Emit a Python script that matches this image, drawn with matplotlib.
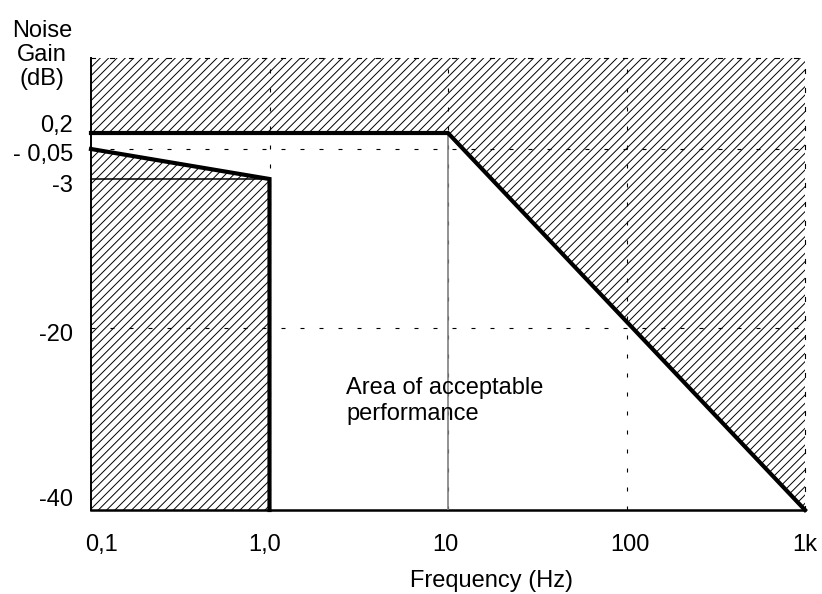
import numpy as np
import matplotlib
matplotlib.use("Agg")
import matplotlib.pyplot as plt
import matplotlib.transforms as mtransforms

plt.rcParams['font.family'] = ['Liberation Sans', 'DejaVu Sans']
plt.rcParams['hatch.linewidth'] = 0.7

# axis labels
freq_ticks = [0.1, 1.0, 10, 100, 1000]
freq_labels = ['0,1', '1,0', '10', '100', '1k']
gain_ticks = [0.2, -0.05, -3, -20, -40]
gain_labels = ['0,2', '- 0,05', '-3', '-20', '-40']

# upper limit of the noise gain (flat, then rolling off)
upper_freq = [0.1, 10, 1000]
upper_gain = [0.2, 0.2, -40]

# lower limit (slight droop down to -3 dB at 1 Hz)
lower_freq = [0.1, 1.0]
lower_gain = [-0.05, -3]

# dashed reference grid
grid_freqs = [1.0, 10, 100]
grid_gains = [-0.05, -20]

# the gain axis is not linear: breakpoints of the drawing scale
GAIN_DB = [-40, -20, -3, -0.05, 0.2, 1.0]
GAIN_POS = [0, 182, 331, 361, 377, 452]


def gain_fwd(y):
    return np.interp(y, GAIN_DB, GAIN_POS)


def gain_inv(p):
    return np.interp(p, GAIN_POS, GAIN_DB)


fig = plt.figure(figsize=(8.22, 5.94), dpi=100)
ax = fig.add_axes([91 / 822, 84 / 594, 714 / 822, 452 / 594])
ax.set_xscale('log')
ax.set_yscale('function', functions=(gain_fwd, gain_inv))
ax.set_xlim(freq_ticks[0], freq_ticks[-1])
ax.set_ylim(GAIN_DB[0], GAIN_DB[-1])
ax.set_xticks([])
ax.set_yticks([])
ax.xaxis.set_minor_locator(matplotlib.ticker.NullLocator())
ax.yaxis.set_minor_locator(matplotlib.ticker.NullLocator())

dash = (0, (3.6, 13.5))
for s in ['top', 'right']:
    ax.spines[s].set_linestyle(dash)
    ax.spines[s].set_linewidth(0.8)
ax.spines['left'].set_linewidth(1.4)
ax.spines['bottom'].set_linewidth(1.8)

for f in grid_freqs:
    ax.axvline(f, color='black', lw=0.8, ls=dash, zorder=1)
for g in grid_gains:
    ax.axhline(g, color='black', lw=0.8, ls=dash, zorder=1)

# hatched forbidden areas
top = GAIN_DB[-1]
ax.fill_between(upper_freq, upper_gain, top, facecolor='none',
                edgecolor='black', hatch='////', lw=0, zorder=2)
ax.fill_between(lower_freq, lower_gain, gain_ticks[-1], facecolor='none',
                edgecolor='black', hatch='////', lw=0, zorder=2)

# grey marker at 10 Hz inside the acceptable area
ax.plot([10, 10], [gain_ticks[-1], upper_gain[0]], color='#808080', lw=1.2, zorder=3)

# thin -3 dB line
ax.plot(lower_freq, [lower_gain[-1]] * 2, color='black', lw=1.1, zorder=3)

# limit lines
ax.plot(upper_freq, upper_gain, color='black', lw=3, zorder=4,
        solid_joinstyle='miter', clip_on=False)
ax.plot(lower_freq + [lower_freq[-1]], lower_gain + [gain_ticks[-1]],
        color='black', lw=3, zorder=4, solid_joinstyle='miter', clip_on=False)

# tick labels as text so each can be nudged
ytrans = mtransforms.blended_transform_factory(ax.transAxes, ax.transData)
y_nudge = [-7, 6, 7, 7, -10]
for g, lab, dy in zip(gain_ticks, gain_labels, y_nudge):
    off = mtransforms.ScaledTranslation(0, -dy / 100, fig.dpi_scale_trans)
    ax.text(-18 / 714, g, lab, transform=ytrans + off, ha='right',
            va='center', fontsize=17)

xtrans = mtransforms.blended_transform_factory(ax.transData, ax.transAxes)
x_nudge = [10, -5, -3, 3, 0]
for f, lab, dx in zip(freq_ticks, freq_labels, x_nudge):
    off = mtransforms.ScaledTranslation(dx / 100, 0, fig.dpi_scale_trans)
    ax.text(f, -35 / 452, lab, transform=xtrans + off, ha='center',
            va='center', fontsize=17)

ax.text(2.7, -28, 'Area of acceptable\nperformance', ha='left', va='center',
        fontsize=17, linespacing=1.25, zorder=5)

fig.text(410 / 822, 1 - 581 / 594, 'Frequency (Hz)', ha='left', va='center',
         fontsize=17)
fig.text(42 / 822, 1 - 55 / 594, 'Noise\nGain\n(dB)', ha='center',
         va='center', fontsize=17, linespacing=1.12)

fig.savefig('out.png', dpi=100)
